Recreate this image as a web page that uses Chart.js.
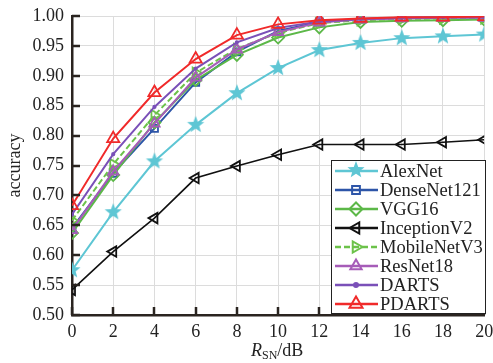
<!DOCTYPE html>
<html>
<head>
<meta charset="utf-8">
<script src="https://cdn.jsdelivr.net/npm/chart.js@4/dist/chart.umd.min.js"></script>
<style>
  body { margin: 0; background: #fff; }
  #wrap { position: relative; width: 493px; height: 363px; }
  #xtitle { position: absolute; left: 251px; top: 340px; font: 18px "Liberation Serif", serif; color: #222; white-space: nowrap; }
  #xtitle sub { font-size: 12px; vertical-align: -3px; line-height: 0; }
</style>
</head>
<body>
<div id="wrap">
  <canvas id="myChart" width="493" height="363"></canvas>
  <div id="xtitle"><i>R</i><sub>SN</sub>/dB</div>
</div>
<script>
// SNR values (dB)
let snr = [0, 2, 4, 6, 8, 10, 12, 14, 16, 18, 20];
let yTicks = [0.50, 0.55, 0.60, 0.65, 0.70, 0.75, 0.80, 0.85, 0.90, 0.95, 1.00];

let alexNet     = [0.575, 0.672, 0.757, 0.818, 0.871, 0.913, 0.943, 0.955, 0.963, 0.966, 0.969];
let denseNet121 = [0.645, 0.737, 0.812, 0.889, 0.940, 0.975, 0.990, 0.995, 0.997, 0.998, 0.998];
let vgg16       = [0.637, 0.734, 0.822, 0.893, 0.935, 0.964, 0.981, 0.990, 0.992, 0.993, 0.994];
let inceptionV2 = [0.542, 0.606, 0.662, 0.729, 0.749, 0.768, 0.785, 0.785, 0.785, 0.789, 0.793];
let mobileNetV3 = [0.658, 0.752, 0.834, 0.905, 0.945, 0.972, 0.988, 0.993, 0.995, 0.996, 0.996];
let resNet18    = [0.642, 0.740, 0.820, 0.897, 0.944, 0.973, 0.989, 0.994, 0.996, 0.997, 0.997];
let darts       = [0.668, 0.769, 0.848, 0.912, 0.956, 0.980, 0.991, 0.995, 0.997, 0.998, 0.998];
let pdarts      = [0.683, 0.795, 0.872, 0.928, 0.968, 0.986, 0.993, 0.996, 0.998, 0.998, 0.999];

const SERIF = '"Liberation Serif", "Times New Roman", serif';

function makeStar(color, outer, inner) {
    let size = Math.ceil(outer * 2 + 2);
    let c = document.createElement('canvas');
    c.width = size; c.height = size;
    let g = c.getContext('2d');
    g.fillStyle = color;
    g.beginPath();
    for (let i = 0; i < 10; i++) {
        let r = i % 2 === 0 ? outer : inner;
        let a = -Math.PI / 2 + i * Math.PI / 5;
        let px = size / 2 + r * Math.cos(a);
        let py = size / 2 + r * Math.sin(a);
        if (i === 0) g.moveTo(px, py); else g.lineTo(px, py);
    }
    g.closePath();
    g.fill();
    return c;
}

let starImg = makeStar('#5ec6d4', 9, 3.8);

function series(label, values, color, style, extra) {
    return Object.assign({
        label: label,
        data: snr.map((x, i) => ({ x: x, y: values[i] })),
        borderColor: color,
        backgroundColor: 'rgba(255,255,255,0)',
        pointBorderColor: color,
        pointBackgroundColor: 'rgba(255,255,255,0)',
        borderWidth: 2,
        pointBorderWidth: 1.8,
        pointRadius: 6,
        pointStyle: style,
        tension: 0
    }, extra || {});
}

let datasets = [
    series('AlexNet', alexNet, '#5ec6d4', starImg, { order: 8 }),
    series('DenseNet121', denseNet121, '#2d55a8', 'rect', { order: 7, pointRadius: 5 }),
    series('VGG16', vgg16, '#5cb848', 'rectRot', { order: 6 }),
    series('InceptionV2', inceptionV2, '#111111', 'triangle', { order: 5, pointRotation: -90, borderWidth: 1.6 }),
    series('MobileNetV3', mobileNetV3, '#6cc24a', 'triangle', { order: 4, pointRotation: 90, borderDash: [6, 3] }),
    series('ResNet18', resNet18, '#a65cb8', 'triangle', { order: 3 }),
    series('DARTS', darts, '#7a50b8', 'circle', { order: 2, pointRadius: 1.2, pointBackgroundColor: '#7a50b8' }),
    series('PDARTS', pdarts, '#f02a2a', 'triangle', { order: 1, pointRadius: 7 })
];

// ticks pointing into the plot, like the original figure
const innerTicks = {
    id: 'innerTicks',
    afterDatasetsDraw(chart) {
        let ctx = chart.ctx;
        let area = chart.chartArea;
        let xs = chart.scales.x, ys = chart.scales.y;
        ctx.save();
        ctx.strokeStyle = '#2a2420';
        ctx.lineWidth = 2.5;
        ctx.beginPath();
        yTicks.forEach(v => {
            let py = Math.round(ys.getPixelForValue(v));
            ctx.moveTo(area.left, py);
            ctx.lineTo(area.left + 8, py);
        });
        snr.forEach(v => {
            let px = Math.round(xs.getPixelForValue(v));
            ctx.moveTo(px, area.bottom);
            ctx.lineTo(px, area.bottom - 8);
        });
        ctx.stroke();
        ctx.restore();
    }
};

const boxLegend = {
    id: 'boxLegend',
    afterDraw(chart) {
        let ctx = chart.ctx;
        let left = 331, top = 160, right = 485, bottom = 313;
        ctx.save();
        ctx.fillStyle = '#fff';
        ctx.fillRect(left, top, right - left, bottom - top);
        ctx.strokeStyle = '#222';
        ctx.lineWidth = 1;
        ctx.strokeRect(left + 0.5, top + 0.5, right - left, bottom - top);
        ctx.font = '18.5px ' + SERIF;
        ctx.textBaseline = 'middle';
        chart.data.datasets.forEach((ds, i) => {
            let y = 171 + i * 19;
            ctx.strokeStyle = ds.borderColor;
            ctx.lineWidth = 2.5;
            ctx.setLineDash(ds.borderDash || []);
            ctx.beginPath();
            ctx.moveTo(335, y);
            ctx.lineTo(378, y);
            ctx.stroke();
            ctx.setLineDash([]);
            ctx.fillStyle = ds.pointBackgroundColor;
            ctx.strokeStyle = ds.pointBorderColor;
            ctx.lineWidth = 2;
            let r = ds.pointStyle === starImg ? 8 : Math.max(ds.pointRadius, 1.5) + 0.5;
            if (ds.pointStyle === starImg) {
                ctx.drawImage(starImg, 356 - starImg.width / 2, y - starImg.height / 2 - 1);
            } else if (Chart.helpers && Chart.helpers.drawPoint) {
                Chart.helpers.drawPoint(ctx, {
                    pointStyle: ds.pointStyle,
                    rotation: ds.pointRotation || 0,
                    radius: r,
                    borderWidth: 2
                }, 356, y);
            }
            ctx.fillStyle = '#222';
            ctx.fillText(ds.label, 380, y + 1);
        });
        ctx.restore();
    }
};

let ctx = document.getElementById('myChart').getContext('2d');
let myChart = new Chart(ctx, {
    type: 'line',
    data: { datasets: datasets },
    plugins: [innerTicks, boxLegend],
    options: {
        responsive: false,
        animation: false,
        devicePixelRatio: 1,
        layout: { padding: { top: 16, right: 6, left: 0, bottom: 0 } },
        plugins: { legend: { display: false }, tooltip: { enabled: false } },
        scales: {
            x: {
                type: 'linear',
                min: 0, max: 20,
                afterBuildTicks: s => { s.ticks = snr.map(v => ({ value: v })); },
                afterFit: s => { s.height = 48; s.paddingLeft = 0; s.paddingRight = 0; },
                grid: { color: '#dcdcdc', lineWidth: 1, drawTicks: false },
                border: { color: '#2a2420', width: 2.5 },
                ticks: { color: '#222', padding: 6, maxRotation: 0, font: { family: SERIF, size: 18 } }
            },
            y: {
                min: 0.5, max: 1.0,
                afterBuildTicks: s => { s.ticks = yTicks.map(v => ({ value: v })); },
                afterFit: s => { s.width = 72; s.paddingTop = 0; s.paddingBottom = 0; },
                grid: { color: '#dcdcdc', lineWidth: 1, drawTicks: false },
                border: { color: '#2a2420', width: 2.5 },
                ticks: {
                    color: '#222', padding: 8,
                    font: { family: SERIF, size: 18 },
                    callback: v => v.toFixed(2)
                },
                title: {
                    display: true, text: 'accuracy', color: '#222',
                    font: { family: SERIF, size: 18 },
                    padding: { top: 4, bottom: 0 }
                }
            }
        }
    }
});
</script>
</body>
</html>
